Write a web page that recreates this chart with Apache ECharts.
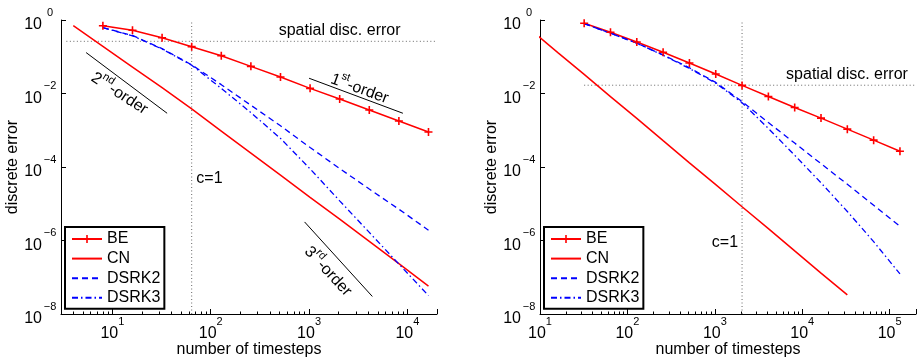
<!DOCTYPE html>
<html>
<head>
<meta charset="utf-8">
<script src="https://cdn.jsdelivr.net/npm/echarts@6/dist/echarts.min.js"></script>
<style>
  html, body { margin: 0; padding: 0; background: #fff; }
  #chart { width: 918px; height: 361px; }
</style>
</head>
<body>
<div id="chart"></div>
<script>
// ---- convergence data: error vs. number of time steps ----
// left study
const stepsLeft   = [8, 16, 32, 64, 128, 256, 512, 1024, 2048, 4096, 8192, 16384];
const stepsLeftCN = [4, 8, 16, 32, 64, 128, 256, 512, 1024, 2048, 4096, 8192, 16384];
const beLeft    = [0.70, 0.524, 0.330, 0.188, 0.107, 0.0548, 0.0281, 0.0138, 0.00708, 0.00356, 0.00179, 0.000895];
const cnLeft    = [0.70, 0.191, 0.0525, 0.0145, 0.0038, 9.5e-4, 2.4e-4, 6.0e-5, 1.5e-5, 3.8e-6, 9.5e-7, 2.35e-7, 5.75e-8];
const dsrk2Left = [0.617, 0.380, 0.166, 0.0603, 0.0174, 0.00479, 0.00132, 3.39e-4, 9.1e-5, 2.51e-5, 7.1e-6, 1.91e-6];
const dsrk3Left = [0.617, 0.372, 0.162, 0.0589, 0.0138, 0.00302, 6.0e-4, 8.9e-5, 1.2e-5, 1.66e-6, 2.29e-7, 3.16e-8];

// right study
const stepsRight   = [32, 64, 128, 256, 512, 1024, 2048, 4096, 8192, 16384, 32768, 65536, 131072];
const stepsRightCN = [8, 16, 32, 64, 128, 256, 512, 1024, 2048, 4096, 8192, 16384, 32768];
const beRight    = [0.813, 0.462, 0.251, 0.132, 0.0676, 0.0339, 0.0166, 0.00832, 0.00417, 0.00214, 0.00107, 5.37e-4, 2.69e-4];
const cnRight    = [0.52, 0.13, 0.033, 0.0082, 0.0021, 5.2e-4, 1.3e-4, 3.3e-5, 8.3e-6, 2.1e-6, 5.2e-7, 1.3e-7, 3.3e-8];
const dsrk2Right = [0.794, 0.437, 0.234, 0.112, 0.0501, 0.0200, 0.00603, 0.00162, 4.47e-4, 1.23e-4, 3.39e-5, 9.1e-6, 2.45e-6];
const dsrk3Right = [0.794, 0.437, 0.234, 0.110, 0.0479, 0.0191, 0.00562, 0.00112, 2.09e-4, 3.72e-5, 6.17e-6, 9.3e-7, 1.23e-7];

// spatial discretisation error level and the c=1 step count
const spatialErrLeft = 0.263, cflStepsLeft = 64;
const spatialErrRight = 0.0168, cflStepsRight = 2048;

// slope guides: [steps, error] end points
const guide1st = [[1000, 0.026], [9000, 0.0029]];
const guide2nd = [[5.4, 0.13], [36, 0.0029]];
const guide3rd = [[900, 3.2e-6], [4400, 3.0e-8]];

// labelled decades on the axes
const xDecadesLeft  = [1, 2, 3, 4];
const xDecadesRight = [1, 2, 3, 4, 5];
const yDecades      = [0, -2, -4, -6, -8];
const seriesNames   = ['BE', 'CN', 'DSRK2', 'DSRK3'];

// ---- styling ----
const FONT = '"Liberation Sans", Arial, Helvetica, sans-serif';
const RED = '#ff0000', BLUE = '#0000ff';
const PLUS = 'path://M0,3.2H8V4.8H0Z M3.2,0H4.8V8H3.2Z';

const zip = (xs, ys) => xs.map((x, i) => [x, ys[i]]);

function decadeLabel(decades) {
  return function (v) {
    const e = Math.log10(v);
    const r = Math.round(e);
    if (Math.abs(e - r) > 1e-6 || decades.indexOf(r) < 0) return '';
    const exp = r < 0 ? '\u2212' + (-r) : String(r);
    return '{b|10}{s|' + exp + '}';
  };
}

const richX = {
  b: { fontFamily: FONT, fontSize: 16, color: '#000', lineHeight: 26, verticalAlign: 'bottom' },
  s: { fontFamily: FONT, fontSize: 11, color: '#000', lineHeight: 11, verticalAlign: 'top' }
};
const richY = {
  b: { fontFamily: FONT, fontSize: 16, color: '#000', lineHeight: 26, verticalAlign: 'bottom' },
  s: { fontFamily: FONT, fontSize: 11, color: '#000', lineHeight: 11, verticalAlign: 'top', width: 16, align: 'left' }
};

function xAxisCfg(gridIndex, min, max, decades) {
  return {
    type: 'log', logBase: 10, gridIndex, min, max,
    name: 'number of timesteps', nameLocation: 'middle', nameGap: 28, nameMoveOverlap: false,
    nameTextStyle: { fontFamily: FONT, fontSize: 16, color: '#000' },
    axisLine: { show: true, lineStyle: { color: '#000', width: 1 } },
    axisTick: { show: true, inside: true, length: 5, lineStyle: { color: '#000', width: 1 } },
    minorTick: { show: true, splitNumber: 9, length: 2.5, lineStyle: { color: '#000', width: 1 } },
    axisLabel: { formatter: decadeLabel(decades), margin: 2, rich: richX, showMinLabel: true, showMaxLabel: true },
    splitLine: { show: false }, minorSplitLine: { show: false }
  };
}

function yAxisCfg(gridIndex) {
  return {
    type: 'log', logBase: 10, gridIndex, min: 1e-8, max: 1, interval: 2,
    name: 'discrete error', nameLocation: 'middle', nameGap: 40, nameMoveOverlap: false,
    nameTextStyle: { fontFamily: FONT, fontSize: 16, color: '#000' },
    axisLine: { show: true, lineStyle: { color: '#000', width: 1 } },
    axisTick: { show: true, inside: true, length: 5, lineStyle: { color: '#000', width: 1 } },
    minorTick: { show: false },
    axisLabel: { formatter: decadeLabel(yDecades), margin: 3, rich: richY },
    splitLine: { show: false }
  };
}

function studySeries(g, steps, stepsCN, be, cn, d2, d3) {
  const common = { type: 'line', xAxisIndex: g, yAxisIndex: g, silent: true, animation: false, clip: true };
  return [
    Object.assign({}, common, { name: 'BE', data: zip(steps, be), symbol: PLUS, symbolSize: 8, showSymbol: true,
      itemStyle: { color: RED }, lineStyle: { color: RED, width: 1.5 } }),
    Object.assign({}, common, { name: 'CN', data: zip(stepsCN, cn), symbol: 'none',
      itemStyle: { color: RED }, lineStyle: { color: RED, width: 1.5 } }),
    Object.assign({}, common, { name: 'DSRK2', data: zip(steps, d2), symbol: 'none',
      itemStyle: { color: BLUE }, lineStyle: { color: BLUE, width: 1.3, type: [6, 4] } }),
    Object.assign({}, common, { name: 'DSRK3', data: zip(steps, d3), symbol: 'none',
      itemStyle: { color: BLUE }, lineStyle: { color: BLUE, width: 1.3, type: [6, 3, 1.5, 3] } })
  ];
}

function refLine(g, pts, dotted) {
  return {
    type: 'line', xAxisIndex: g, yAxisIndex: g, data: pts, symbol: 'none', silent: true, animation: false,
    lineStyle: dotted ? { color: '#666', width: 1, type: [1, 2.5] } : { color: '#000', width: 1 },
    z: 1
  };
}

function legendAt(left) {
  return {
    orient: 'vertical', left, top: 227,
    // plain line samples carry no marker in the key
    data: seriesNames.map(n => n === 'BE' ? n : { name: n, itemStyle: { opacity: 0 } }),
    itemWidth: 30, itemHeight: 10, itemGap: 3.6,
    padding: [4, 4, 3, 6],
    borderColor: '#000', borderWidth: 2, borderRadius: 0, backgroundColor: '#fff',
    textStyle: { fontFamily: FONT, fontSize: 16, color: '#000', lineHeight: 16 },
    selectedMode: false
  };
}

const chart = echarts.init(document.getElementById('chart'), null, { renderer: 'canvas' });

chart.setOption({
  animation: false,
  backgroundColor: '#fff',
  grid: [
    { left: 61, top: 20, width: 376, height: 294, outerBoundsMode: 'none', containLabel: false },
    { left: 540, top: 20, width: 376, height: 294, outerBoundsMode: 'none', containLabel: false }
  ],
  xAxis: [xAxisCfg(0, 3, 2e4, xDecadesLeft), xAxisCfg(1, 10, 2e5, xDecadesRight)],
  yAxis: [yAxisCfg(0), yAxisCfg(1)],
  legend: [legendAt(65), legendAt(544)],
  series: [
    refLine(0, [[cflStepsLeft, 1e-8], [cflStepsLeft, 1]], true),
    refLine(0, [[3.4, spatialErrLeft], [2e4, spatialErrLeft]], true),
    refLine(0, guide1st, false),
    refLine(0, guide2nd, false),
    refLine(0, guide3rd, false),
    refLine(1, [[cflStepsRight, 1e-8], [cflStepsRight, 1]], true),
    refLine(1, [[32, spatialErrRight], [2e5, spatialErrRight]], true),
    ...studySeries(0, stepsLeft, stepsLeftCN, beLeft, cnLeft, dsrk2Left, dsrk3Left),
    ...studySeries(1, stepsRight, stepsRightCN, beRight, cnRight, dsrk2Right, dsrk3Right)
  ]
});

// text annotations anchored in data coordinates
const richNote = {
  n: { fontFamily: FONT, fontSize: 16, fill: '#000', lineHeight: 20, verticalAlign: 'bottom' },
  s: { fontFamily: FONT, fontSize: 11, fill: '#000', lineHeight: 11, verticalAlign: 'top' }
};
const notes = [
  { grid: 0, at: [491, 0.518], text: 'spatial disc. error', align: 'left', rot: 0 },
  { grid: 1, at: [6530, 0.0323], text: 'spatial disc. error', align: 'left', rot: 0 },
  { grid: 0, at: [71.3, 4.87e-5], text: 'c=1', align: 'left', rot: 0 },
  { grid: 1, at: [924, 8.8e-7], text: 'c=1', align: 'left', rot: 0 },
  { grid: 0, at: [3320, 0.01503], rich: '{n|1}{s|st}{n|-order}', align: 'center', rot: 20 },
  { grid: 0, at: [12.1, 0.011], rich: '{n|2}{s|nd}{n|-order}', align: 'center', rot: 33 },
  { grid: 0, at: [1607, 1.57e-7], rich: '{n|3}{s|rd}{n|-order}', align: 'center', rot: 47 }
];

chart.setOption({
  graphic: notes.map(function (n) {
    const p = chart.convertToPixel({ gridIndex: n.grid }, n.at);
    const style = n.rich
      ? { text: n.rich, rich: richNote, align: n.align, verticalAlign: 'middle' }
      : { text: n.text, font: '16px ' + FONT, fill: '#000', align: n.align, verticalAlign: 'middle' };
    return { type: 'text', x: p[0], y: p[1], rotation: -n.rot * Math.PI / 180, silent: true, z: 10, style };
  })
});
</script>
</body>
</html>
